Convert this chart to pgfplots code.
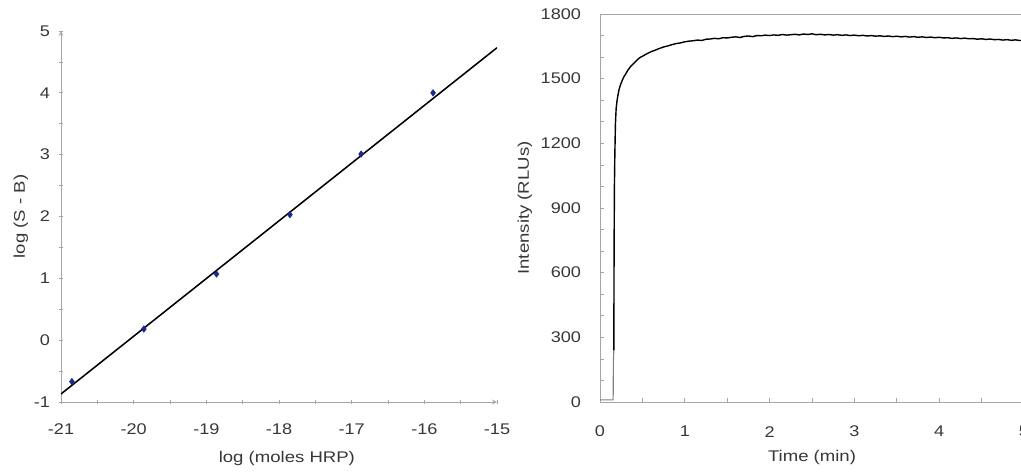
\documentclass[border=0pt]{standalone}
\usepackage{fontspec}
\setmainfont{Liberation Sans}
\usepackage{pgfplots}
\pgfplotsset{compat=1.18}
\definecolor{axgray}{RGB}{165,165,165}
\definecolor{txtgray}{RGB}{55,55,55}
\definecolor{markblue}{RGB}{30,40,140}

\pgfplotsset{
  mystyle/.style={
    scale only axis,
    tick align=inside,
    major tick length=1.1mm,
    minor tick length=1.1mm,
    every tick/.style={axgray, line width=0.5pt},
    axis line style={-, axgray, line width=0.6pt},
    tick label style={font=\fontsize{11}{13}\selectfont, text=txtgray, xscale=1.17},
    label style={font=\fontsize{11}{13}\selectfont, text=txtgray, xscale=1.2},
  }
}

\begin{document}
\begin{tikzpicture}
% left: calibration line
\begin{axis}[mystyle,
  at={(15.25mm,17.5mm)}, anchor=south west,
  width=109mm, height=92.75mm,
  axis x line=bottom, axis y line=left,
  xmin=-21, xmax=-15, ymin=-1, ymax=5,
  xtick={-21,-20,...,-15}, ytick={-1,0,...,5},
  xticklabels={-21,-20,-19,-18,-17,-16,-15},
  yticklabels={-1,0,1,2,3,4,5},
  minor tick num=1,
  xticklabel style={anchor=center, yshift=-6.25mm},
  yticklabel style={anchor=east, inner sep=0pt, xshift=-1.8mm},
  xlabel={log (moles HRP)}, ylabel={log (S - B)},
  xlabel style={at={(axis description cs:0.518,-0.151)}, anchor=center},
  ylabel style={at={(axis description cs:-0.092,0.5)}, anchor=center},
]
\addplot[black, line width=1.1pt] coordinates {(-21,-0.87) (-15,4.73)};
\addplot[only marks, mark=diamond*, mark size=2.3pt, markblue] coordinates {
  (-20.85,-0.67) (-19.86,0.18) (-18.86,1.07) (-17.85,2.03) (-16.87,3.01) (-15.88,4.00)
};
\end{axis}

% right: kinetics
\begin{axis}[mystyle,
  at={(150mm,17.5mm)}, anchor=south west,
  width=106mm, height=97mm,
  xmin=0, xmax=5, ymin=0, ymax=1800,
  xtick={0,1,...,5}, ytick={0,300,...,1800},
  xticklabels={0,1,2,3,4,5},
  yticklabels={0,300,600,900,1200,1500,1800},
  minor x tick num=1, minor y tick num=2,
  xtick pos=bottom, ytick pos=left,
  xticklabel style={anchor=center, yshift=-7.4mm},
  yticklabel style={anchor=east, inner sep=0pt, xshift=-4mm},
  xlabel={Time (min)}, ylabel={Intensity (RLUs)},
  xlabel style={at={(axis description cs:0.5,-0.144)}, anchor=center},
  ylabel style={at={(axis description cs:-0.177,0.5)}, anchor=center},
]
\addplot[gray, line width=0.8pt] coordinates {(0,10) (0.155,10) (0.158,190) (0.163,240)};
\addplot[black, line width=1pt] coordinates {
  (0.163,240) (0.166,700) (0.170,1000) (0.175,1150) (0.182,1290) (0.19,1360)
  (0.2,1395) (0.21,1420) (0.225,1450) (0.24,1470) (0.26,1490) (0.28,1508)
  (0.30,1520) (0.33,1540) (0.36,1556) (0.39,1568) (0.42,1580) (0.45,1592)
  (0.48,1600) (0.51,1606) (0.55,1615) (0.6,1625) (0.65,1632) (0.7,1640)
  (0.75,1647) (0.8,1652) (0.85,1658) (0.9,1663) (0.95,1666) (1.0,1671)
  (1.05,1674) (1.10,1676) (1.15,1679) (1.20,1677) (1.25,1683) (1.30,1684)
  (1.35,1687) (1.40,1685) (1.45,1690) (1.50,1689) (1.55,1692) (1.60,1694)
  (1.65,1691) (1.70,1696) (1.75,1698) (1.80,1695) (1.85,1700) (1.90,1699)
  (1.95,1702) (2.00,1700) (2.05,1703) (2.10,1701) (2.15,1705) (2.20,1702)
  (2.25,1704) (2.30,1706) (2.35,1703) (2.40,1707) (2.45,1705) (2.50,1708)
  (2.55,1704) (2.60,1706) (2.65,1703) (2.70,1705) (2.75,1702) (2.80,1704)
  (2.85,1701) (2.90,1703) (2.95,1700) (3.00,1702) (3.05,1699) (3.10,1701)
  (3.15,1698) (3.20,1700) (3.25,1697) (3.30,1699) (3.35,1696) (3.40,1698)
  (3.45,1695) (3.50,1697) (3.55,1694) (3.60,1696) (3.65,1693) (3.70,1695)
  (3.75,1692) (3.80,1694) (3.85,1691) (3.90,1693) (3.95,1690) (4.00,1692)
  (4.05,1689) (4.10,1690) (4.15,1687) (4.20,1689) (4.25,1686) (4.30,1688)
  (4.35,1685) (4.40,1686) (4.45,1683) (4.50,1685) (4.55,1682) (4.60,1684)
  (4.65,1681) (4.70,1682) (4.75,1679) (4.80,1681) (4.85,1678) (4.90,1680)
  (4.95,1677) (5.00,1678)
};
\end{axis}
\pgfresetboundingbox
\path[use as bounding box] (0,0) rectangle (255.25mm,118mm);
\end{tikzpicture}
\end{document}
